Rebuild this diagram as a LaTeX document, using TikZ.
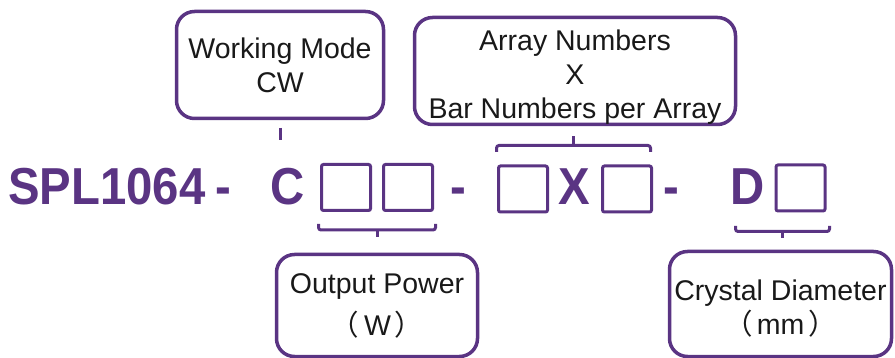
\documentclass[tikz,border=0pt]{standalone}
\usepackage{fontspec}
\setmainfont{Liberation Sans}
\newfontfamily\cjk{Noto Sans CJK SC}
\definecolor{pur}{RGB}{90,52,131}
\begin{document}
\begin{tikzpicture}[x=1pt,y=-1pt,
  bigbox/.style={draw=pur,line width=3.5pt,rounded corners=18pt,inner sep=0pt,
    align=center,font=\fontsize{28.5}{34}\selectfont,text=black!90},
  sq/.style={draw=pur,line width=3pt,rounded corners=2pt,minimum width=49pt,minimum height=46pt,inner sep=0pt},
  big/.style={text=pur,font=\fontsize{52}{52}\selectfont\bfseries,inner sep=0pt,xscale=0.91},
  brk/.style={draw=pur,line width=3pt,rounded corners=2.5pt},
  stem/.style={draw=pur,line width=3pt}]
\useasboundingbox (0,0) rectangle (895,358);
% top boxes
\node[bigbox,minimum width=207pt,minimum height=107pt] (wm) at (280,65) {Working Mode\\CW};
\node[bigbox,minimum width=321pt,minimum height=107pt] (arr) at (575,71) {\rule{0pt}{32pt}Array Numbers\\X\\Bar Numbers per Array};
% bottom boxes
\node[bigbox,minimum width=201pt,minimum height=102pt] (op) at (377,305.5) {Output Power\\[8pt]{\cjk （}\hspace{5pt}W\hspace{4pt}{\cjk ）}};
\node[bigbox,minimum width=222pt,minimum height=105pt] (cd) at (780.5,304) {\rule{0pt}{30pt}Crystal Diameter\\{\cjk （}\hspace{4pt}mm\hspace{4pt}{\cjk ）}};
% main row
\node[big,anchor=base west] (spl) at (8,205) {SPL1064};
\node[big,anchor=base] (d1) at (223,205) {-};
\node[big,anchor=base] (c) at (288,205) {C};
\node[sq] (b1) at (346,187.5) {};
\node[sq] (b2) at (408,187.5) {};
\node[big,anchor=base] (d2) at (458,205) {-};
\node[sq] (b3) at (523,189) {};
\node[big,anchor=base] (x) at (574,205) {X};
\node[sq] (b4) at (627,189) {};
\node[big,anchor=base] (d3) at (671,205) {-};
\node[big,anchor=base] (d) at (748,205) {D};
\node[sq] (b5) at (800.5,188) {};
% tick under working mode
\coordinate (t1) at (280,128);
\coordinate (t2) at (280,140);
\draw[stem] (t1) -- (t2);
% top bracket over array boxes
\draw[brk] (496.5,152) -- (496.5,145.5) -- (650.5,145.5) -- (650.5,152);
\coordinate (s1a) at (573,145.5);
\coordinate (s1b) at (573,136);
\draw[stem] (s1a) -- (s1b);
% bracket under power boxes
\draw[brk] (318.5,224) -- (318.5,230) -- (435.5,230) -- (435.5,224);
\coordinate (s2a) at (377,230);
\coordinate (s2b) at (377,237);
\draw[stem] (s2a) -- (s2b);
% bracket under diameter
\draw[brk] (735.5,226) -- (735.5,231.5) -- (829.5,231.5) -- (829.5,226);
\coordinate (s3a) at (782,231.5);
\coordinate (s3b) at (782,238);
\draw[stem] (s3a) -- (s3b);
\end{tikzpicture}
\end{document}
